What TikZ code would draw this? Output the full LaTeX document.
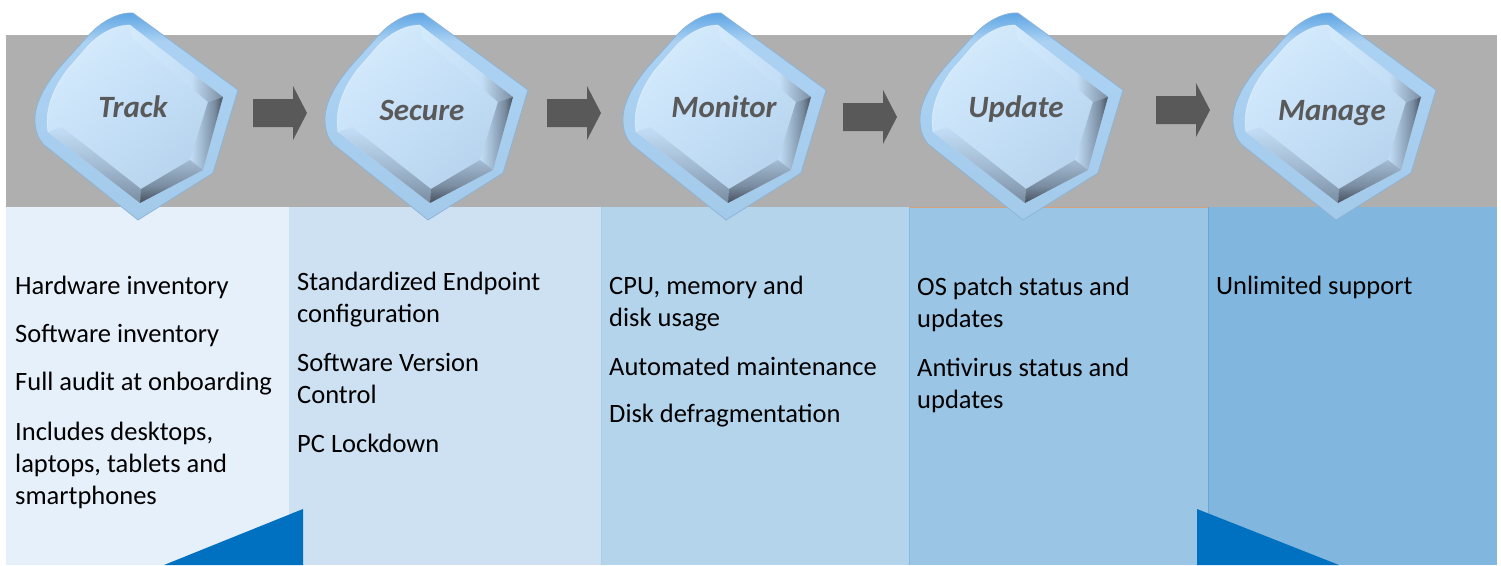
\documentclass[tikz,border=0pt]{standalone}
\usepackage{fontspec}
\setmainfont{Carlito}
\definecolor{bandgray}{HTML}{AFAFAF}
\definecolor{colA}{HTML}{E6F0FA}
\definecolor{colB}{HTML}{CDE1F3}
\definecolor{colC}{HTML}{B4D4EC}
\definecolor{colD}{HTML}{9BC5E5}
\definecolor{colE}{HTML}{81B6DE}
\definecolor{triblue}{HTML}{0070C0}
\definecolor{arrowgray}{HTML}{595959}
\definecolor{headgray}{HTML}{595959}
\definecolor{gemtop}{HTML}{5CA4E4}
\definecolor{gemring}{HTML}{AAD1F2}
\definecolor{gemringbot}{HTML}{A4CAEA}
\definecolor{gemedge}{HTML}{8CB2D4}
\definecolor{facelight}{HTML}{D4EAFC}
\definecolor{facemid}{HTML}{C3DEF6}
\definecolor{facedark}{HTML}{B6D2EC}
\definecolor{bevdark}{HTML}{45505D}
\definecolor{bevmid}{HTML}{7A8DA1}
\definecolor{bevsoft}{HTML}{A3BCD4}
\definecolor{lineBC}{HTML}{A9CDEB}
\definecolor{lineCD}{HTML}{86B9E1}
\definecolor{lineDE}{HTML}{6AA5D8}
\definecolor{tanline}{HTML}{D4A27C}
% TikZ maps the 25bp..75bp range of a 100bp shading onto the path's bounding box
\pgfdeclareverticalshading{ringshade}{100bp}{color(0bp)=(gemringbot); color(25bp)=(gemringbot); color(58bp)=(gemring); color(68bp)=(gemring); color(75bp)=(gemtop); color(100bp)=(gemtop)}
\pgfdeclarehorizontalshading{bevright}{100bp}{color(0bp)=(facemid); color(25bp)=(facemid); color(42bp)=(bevsoft); color(62bp)=(bevmid); color(75bp)=(bevdark); color(100bp)=(bevdark)}
\pgfdeclarehorizontalshading{bevtop}{100bp}{color(0bp)=(facelight); color(25bp)=(facelight); color(58bp)=(facemid); color(75bp)=(bevmid); color(100bp)=(bevmid)}
\pgfdeclareverticalshading{bevbottom}{100bp}{color(0bp)=(bevdark); color(25bp)=(bevdark); color(45bp)=(bevmid); color(75bp)=(bevsoft); color(100bp)=(bevsoft)}
\pgfdeclareverticalshading{bevleft}{100bp}{color(0bp)=(bevmid); color(25bp)=(bevmid); color(50bp)=(bevsoft); color(75bp)=(facemid); color(100bp)=(facemid)}
\tikzset{
  headtext/.style={font=\fontsize{31}{36}\selectfont\bfseries\itshape, text=headgray, inner sep=0pt, anchor=base},
  bodytext/.style={font=\fontsize{26.5}{32}\selectfont, text=black, inner sep=0pt, anchor=north west, align=left},
  blockarrow/.style={fill=arrowgray},
  gemouter/.style={shading=ringshade},
  gemface/.style={top color=facelight, bottom color=facedark, middle color=facemid, shading angle=40},
}
\newcommand\gemshape[1]{%
  \begin{scope}[shift={(#1,13)}]
    \shade[gemouter] (98,0) .. controls (84,-1) and (66,8) .. (52,24) -- (25,54) .. controls (10,72) and (0,90) .. (0,106) .. controls (0,118) and (3,125) .. (8,131) -- (103,207) -- (178,160) -- (203,77) -- cycle;
    \draw[gemedge, line width=0.7pt] (98,0) .. controls (84,-1) and (66,8) .. (52,24) -- (25,54) .. controls (10,72) and (0,90) .. (0,106) .. controls (0,118) and (3,125) .. (8,131) -- (103,207) -- (178,160) -- (203,77) -- cycle;
    % inner face
    \shade[gemface] (95,12) -- (188,84) -- (168,157) -- (105,190) -- (13,119) .. controls (10,100) and (15,80) .. (32,57) -- (52,34) .. controls (65,20) and (80,12) .. (95,12) -- cycle;
    % bevel strips
    \shade[shading=bevtop] (95,12) -- (188,84) -- (173,89) -- (97,25) -- cycle;
    \shade[shading=bevright] (188,84) -- (168,157) -- (155,147) -- (173,89) -- cycle;
    \shade[shading=bevbottom] (168,157) -- (105,190) -- (106,176) -- (155,147) -- cycle;
    \shade[shading=bevleft] (105,190) -- (13,119) -- (27,114) -- (106,176) -- cycle;
    \draw[white, opacity=0.35, line width=0.8pt] (13,119) .. controls (10,100) and (15,80) .. (32,57) -- (52,34) .. controls (65,20) and (80,12) .. (95,12);
  \end{scope}}
\newcommand\blockarr[2]{%
  \fill[blockarrow] (#1,#2-14) -- (#1+40,#2-14) -- (#1+40,#2-27) -- (#1+54,#2) -- (#1+40,#2+27) -- (#1+40,#2+14) -- (#1,#2+14) -- cycle;}
\begin{document}
\begin{tikzpicture}[x=1pt,y=-1pt]
  \useasboundingbox (0,0) rectangle (1501,565);
  \fill[white] (0,0) rectangle (1501,565);
  % grey band
  \fill[bandgray] (6,35) rectangle (1497,207);
  % columns
  \fill[colA] (6,207) rectangle (289,565);
  \fill[colB] (289,207) rectangle (601,565);
  \fill[colC] (601,207) rectangle (909,565);
  \fill[colD] (909,207) rectangle (1208,565);
  \fill[colE] (1208,207) rectangle (1497,565);
  \draw[lineBC, line width=1pt] (601,207) -- (601,565);
  \draw[lineCD, line width=1pt] (909,207) -- (909,565);
  \draw[lineDE, line width=1pt] (1208,207) -- (1208,565);
  \draw[tanline, line width=1.2pt] (909,207.5) -- (1208,207.5);
  % corner triangles
  \fill[triblue] (164,565) -- (303,509) -- (303,565) -- cycle;
  \fill[triblue] (1197,509) -- (1197,565) -- (1339,565) -- cycle;
  % block arrows
  \blockarr{253}{113}
  \blockarr{547}{113}
  \blockarr{843}{117}
  \blockarr{1156}{110}
  % gems
  \gemshape{35}
  \gemshape{325}
  \gemshape{623}
  \gemshape{920}
  \gemshape{1233}
  % headings
  \node[headtext] (track) at (133,117) {Track};
  \node[headtext] (secure) at (422,120) {Secure};
  \node[headtext] (monitor) at (724,117) {Monitor};
  \node[headtext] (update) at (1016,117) {Update};
  \node[headtext] (manage) at (1332,120) {Manage};
  % column texts
  \node[bodytext] (listA) at (15,272) {\strut Hardware inventory\\[16pt]Software inventory\\[16pt]Full audit at onboarding\\[17.5pt]Includes desktops,\\laptops, tablets and\\smartphones};
  \node[bodytext] (listB) at (297,268) {\strut Standardized Endpoint\\configuration\\[17pt]Software Version\\Control\\[17pt]PC Lockdown};
  \node[bodytext] (listC) at (609,272) {\strut CPU, memory and\\disk usage\\[17pt]Automated maintenance\\[15pt]Disk defragmentation};
  \node[bodytext] (listD) at (917,273) {\strut OS patch status and\\updates\\[16.5pt]Antivirus status and\\updates};
  \node[bodytext] (listE) at (1216,272) {\strut Unlimited support};
\end{tikzpicture}
\end{document}
